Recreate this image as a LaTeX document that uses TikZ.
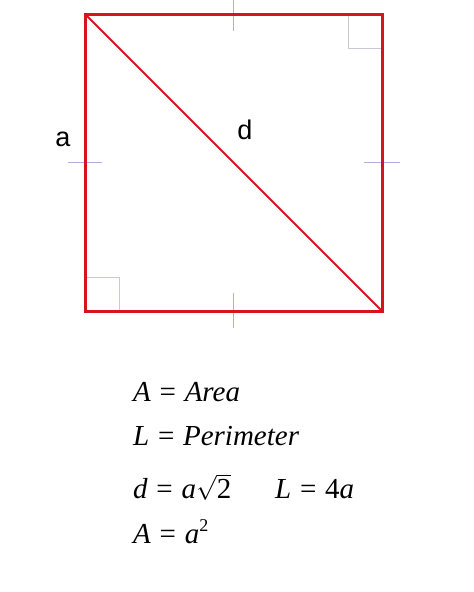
\documentclass[tikz,border=0pt]{standalone}
\usepackage{fontspec}
\setmainfont{Liberation Serif}
\newfontfamily\labelfont{Liberation Sans}
\definecolor{sqred}{RGB}{215,20,30}
\definecolor{tickcol}{RGB}{175,175,220}
\definecolor{ragray}{RGB}{200,200,215}
\tikzset{
  sqline/.style={draw=sqred, line width=3pt, line join=miter},
  diagline/.style={draw=sqred, line width=2pt},
  tickline/.style={draw=tickcol, line width=0.8pt},
  raline/.style={draw=ragray, line width=1pt},
  lbl/.style={font=\labelfont\fontsize{27}{30}\selectfont, inner sep=0pt},
  formula/.style={font=\fontsize{29}{33}\selectfont, inner sep=0pt, anchor=base west}
}
\newcommand{\eqsp}{\hspace{0.3em}=\hspace{0.3em}}
\begin{document}
\begin{tikzpicture}[x=1pt,y=-1pt]
\useasboundingbox[fill=white] (0,0) rectangle (474,592);
\coordinate (TL) at (85,14);
\coordinate (TR) at (382,14);
\coordinate (BR) at (382,311);
\coordinate (BL) at (85,311);
% tick marks
\coordinate (t1) at (233,-2); \coordinate (t2) at (233,31);
\coordinate (b1) at (233,293); \coordinate (b2) at (233,328);
\coordinate (l1) at (68,162); \coordinate (l2) at (102,162);
\coordinate (r1) at (364,162); \coordinate (r2) at (400,162);
\draw[tickline] (t1) -- (t2);
\draw[tickline] (b1) -- (b2);
\draw[tickline] (l1) -- (l2);
\draw[tickline] (r1) -- (r2);
% right angle marks
\coordinate (ra1) at (348,14); \coordinate (ra2) at (348,48); \coordinate (ra3) at (382,48);
\coordinate (rb1) at (85,277); \coordinate (rb2) at (119,277); \coordinate (rb3) at (119,311);
\draw[raline] (ra1) -- (ra2) -- (ra3);
\draw[raline] (rb1) -- (rb2) -- (rb3);
% square and diagonal
\draw[diagline] (TL) -- (BR);
\draw[sqline] (TL) -- (TR) -- (BR) -- (BL) -- cycle;
% labels
\node[lbl] (la) at (63,139) {a};
\node[lbl] (ld) at (245,130) {d};
% formulas
\node[formula] (f1) at (133,401) {\textit{A}\eqsp\textit{Area}};
\node[formula] (f2) at (133,445) {\textit{L}\eqsp\textit{Perimeter}};
\node[formula] (f3) at (133,498) {\textit{d}\eqsp\textit{a}$\sqrt{\mbox{2}}$};
\node[formula] (f4) at (275,498) {\textit{L}\eqsp 4\textit{a}};
\node[formula] (f5) at (133,543) {\textit{A}\eqsp\textit{a}\raisebox{0.4em}{\fontsize{18}{20}\selectfont 2}};
\end{tikzpicture}
\end{document}
